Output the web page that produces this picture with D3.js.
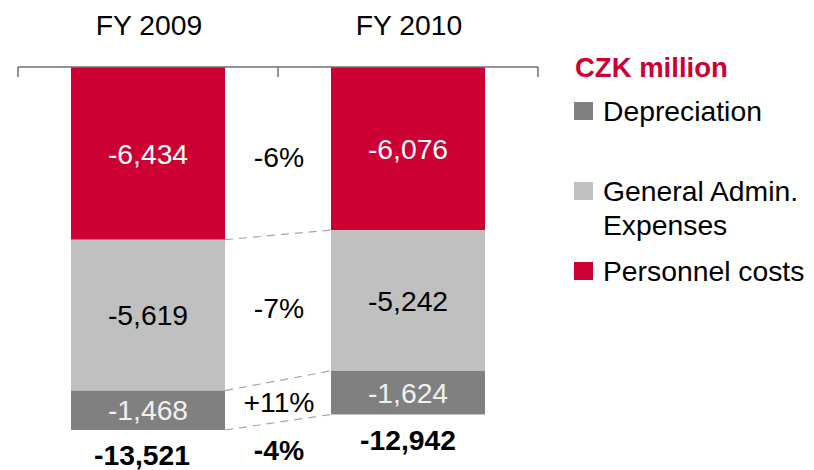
<!DOCTYPE html>
<html><head><meta charset="utf-8">
<script src="https://cdn.jsdelivr.net/npm/d3@7"></script>
<style>
html,body{margin:0;padding:0;background:#fff;}
svg{display:block;font-family:"Liberation Sans",Arial,sans-serif;}
</style></head>
<body>
<svg id="chart" width="814" height="470"></svg>
<script>
const categories = ["FY 2009", "FY 2010"];
const seriesNames = ["Personnel costs", "General Admin. Expenses", "Depreciation"];
const personnel = [6434, 6076];
const generalAdmin = [5619, 5242];
const depreciation = [1468, 1624];
const totals = [13521, 12942];
const changeLabels = ["-6%", "-7%", "+11%"];
const totalChange = "-4%";
const unitTitle = "CZK million";

const colors = ["#CC0033", "#C0C0C0", "#808080"];
const labelColors = ["#ffffff", "#000000", "#f0f0f0"];

const svg = d3.select("#chart");
const fs = 28.3;
const fmt = v => "-" + d3.format(",")(Math.abs(v));

const x = d3.scaleBand().domain(categories).range([18, 538]);
const barW = 154;
const y = d3.scaleLinear().domain([0, 13521]).range([67, 67 + 363]);

const seriesVals = [personnel, generalAdmin, depreciation];
const stackRows = categories.map((c, i) => {
  const r = {cat: c};
  seriesNames.forEach((s, j) => r[s] = seriesVals[j][i]);
  return r;
});
const stack = d3.stack().keys(seriesNames)(stackRows);

const barX = c => x(c) + x.bandwidth() / 2 - barW / 2;

// bars
stack.forEach((layer, j) => {
  svg.append("g").selectAll("rect").data(layer).join("rect")
    .attr("x", d => barX(d.data.cat))
    .attr("y", d => y(d[0]))
    .attr("width", barW)
    .attr("height", d => y(d[1]) - y(d[0]))
    .attr("fill", colors[j]);
  svg.append("g").selectAll("text").data(layer).join("text")
    .attr("x", d => barX(d.data.cat) + barW / 2)
    .attr("y", d => (y(d[0]) + y(d[1])) / 2 + fs * 0.36)
    .attr("text-anchor", "middle")
    .attr("font-size", fs)
    .attr("fill", labelColors[j])
    .text(d => fmt(d[1] - d[0]));
});

// dashed connectors
stack.forEach((layer, j) => {
  const a = layer[0], b = layer[1];
  svg.append("line")
    .attr("x1", barX(a.data.cat) + barW).attr("y1", y(a[1]))
    .attr("x2", barX(b.data.cat)).attr("y2", y(b[1]))
    .attr("stroke", "#a6a6a6").attr("stroke-width", 1.2)
    .attr("stroke-dasharray", "8,6");
});

// change labels
const midX = (barX(categories[0]) + barW + barX(categories[1])) / 2;
stack.forEach((layer, j) => {
  const m0 = (y(layer[0][0]) + y(layer[0][1])) / 2;
  const m1 = (y(layer[1][0]) + y(layer[1][1])) / 2;
  svg.append("text")
    .attr("x", midX + 1)
    .attr("y", (m0 + m1) / 2 + fs * 0.36 + (j === 0 ? 6 : 0))
    .attr("text-anchor", "middle")
    .attr("font-size", fs)
    .attr("fill", "#000")
    .text(changeLabels[j]);
});

// totals
svg.append("g").selectAll("text").data(categories).join("text")
  .attr("x", (c, i) => barX(c) + barW / 2 + (i === 0 ? -6 : 0))
  .attr("y", (c, i) => Math.min(y(totals[i]) + 36, 465))
  .attr("text-anchor", "middle")
  .attr("font-size", fs)
  .attr("font-weight", "bold")
  .attr("fill", "#000")
  .text((c, i) => fmt(totals[i]));
svg.append("text")
  .attr("x", midX + 1)
  .attr("y", (y(totals[0]) + y(totals[1])) / 2 + 38)
  .attr("text-anchor", "middle")
  .attr("font-size", fs)
  .attr("font-weight", "bold")
  .attr("fill", "#000")
  .text(totalChange);

// axis (top)
const axisG = svg.append("g");
axisG.append("line")
  .attr("x1", x.range()[0]).attr("x2", x.range()[1])
  .attr("y1", 67).attr("y2", 67)
  .attr("stroke", "#6f6f6f").attr("stroke-width", 1.5);
const tickXs = [x(categories[0]), x(categories[1]), x(categories[1]) + x.bandwidth()];
axisG.selectAll("line.tick").data(tickXs).join("line")
  .attr("class", "tick")
  .attr("x1", d => d).attr("x2", d => d)
  .attr("y1", 67).attr("y2", 77)
  .attr("stroke", "#6f6f6f").attr("stroke-width", 1.5);

// category labels
svg.append("g").selectAll("text").data(categories).join("text")
  .attr("x", c => x(c) + x.bandwidth() / 2 + 1)
  .attr("y", 35)
  .attr("text-anchor", "middle")
  .attr("font-size", fs)
  .attr("fill", "#000")
  .text(c => c);

// legend
const lx = 574, tx = 603;
svg.append("text").attr("x", 575).attr("y", 77)
  .attr("font-size", 27.5).attr("font-weight", "bold").attr("fill", "#CC0033")
  .text(unitTitle);
const legendItems = [
  {color: colors[2], lines: ["Depreciation"], base: 121},
  {color: colors[1], lines: ["General Admin.", "Expenses"], base: 201},
  {color: colors[0], lines: ["Personnel costs"], base: 281}
];
legendItems.forEach(it => {
  svg.append("rect").attr("x", lx).attr("y", it.base - 19).attr("width", 19).attr("height", 18)
    .attr("fill", it.color);
  const t = svg.append("text").attr("x", tx).attr("y", it.base)
    .attr("font-size", fs).attr("fill", "#000");
  it.lines.forEach((l, i) => t.append("tspan").attr("x", tx).attr("dy", i === 0 ? 0 : 34).text(l));
});
</script>
</body></html>
